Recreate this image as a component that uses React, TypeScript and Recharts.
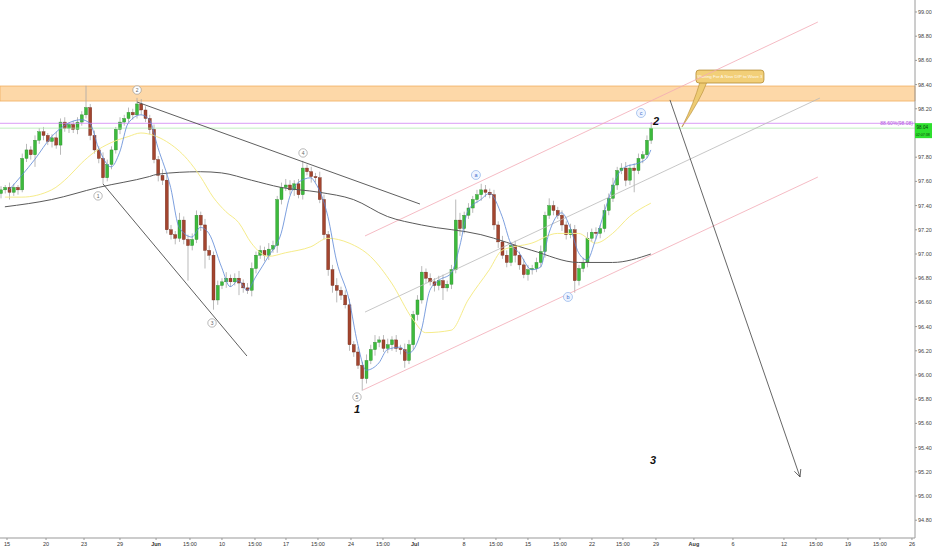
import {
  ComposedChart,
  Bar,
  Line,
  XAxis,
  YAxis,
  ReferenceLine,
  ReferenceArea,
  ReferenceDot,
} from 'recharts'

// x axis is in trading days from May 15, three bars per day
const X_MIN = -0.55
const X_MAX = 71.22
const Y_MIN = 94.653
const Y_MAX = 99.099

const firstOpen = 97.5

const closes = [
  97.53, 97.55, 97.51, 97.55, 97.53, 97.79, 97.86, 97.82, 97.94, 98.01,
  97.98, 97.93, 97.96, 97.9, 98.09, 98.04, 98.07, 98.03, 98.09, 98.15,
  98.21, 97.98, 97.86, 97.79, 97.63, 97.74, 97.86, 98.03, 98.09, 98.12,
  98.17, 98.15, 98.24, 98.19, 98.12, 98.03, 97.78, 97.65, 97.61, 97.2,
  97.16, 97.13, 97.28, 97.12, 97.07, 97.12, 97.32, 97.24, 97.03, 96.99,
  96.62, 96.74, 96.77, 96.8, 96.77, 96.8, 96.76, 96.72, 96.7, 96.88,
  96.99, 97.03, 96.99, 97.04, 97.07, 97.45, 97.55, 97.57, 97.53, 97.58,
  97.49, 97.71, 97.68, 97.64, 97.63, 97.45, 97.16, 96.87, 96.74, 96.7,
  96.66, 96.58, 96.25, 96.19, 96.08, 95.97, 96.12, 96.21, 96.27, 96.29,
  96.22, 96.25, 96.29, 96.22, 96.21, 96.12, 96.25, 96.5, 96.62, 96.85,
  96.8, 96.77, 96.74, 96.78, 96.72, 96.75, 96.87, 97.28, 97.21, 97.32,
  97.38, 97.45, 97.49, 97.53, 97.51, 97.49, 97.24, 97.1, 96.99, 96.93,
  97.07, 96.99, 96.91, 96.83, 96.87, 96.88, 96.93, 97.02, 97.32, 97.4,
  97.36, 97.32, 97.24, 97.16, 97.2, 96.78, 96.88, 96.93, 97.13, 97.18,
  97.17, 97.21, 97.36, 97.46, 97.57, 97.69, 97.71, 97.61, 97.71, 97.69,
  97.79, 97.82, 97.94, 98.04,
]

// wick lengths above / below the body, in hundredths
const upperWicks = [
  3, 2, 4, 3, 2, 4, 5, 3, 4, 3,
  4, 2, 3, 5, 3, 4, 2, 3, 4, 3,
  18, 3, 4, 3, 5, 4, 3, 2, 4, 3,
  4, 3, 5, 4, 3, 3, 4, 3, 5, 6,
  4, 3, 6, 3, 4, 5, 4, 3, 5, 4,
  3, 4, 3, 5, 3, 4, 6, 3, 4, 5,
  3, 4, 3, 5, 4, 3, 4, 5, 4, 3,
  4, 6, 3, 4, 3, 5, 4, 3, 4, 6,
  3, 4, 5, 3, 4, 3, 5, 4, 6, 3,
  4, 5, 3, 4, 3, 5, 4, 3, 4, 5,
  3, 4, 3, 4, 5, 3, 4, 17, 6, 3,
  4, 3, 4, 5, 4, 3, 4, 3, 5, 4,
  3, 4, 3, 5, 4, 3, 4, 5, 3, 6,
  4, 3, 4, 3, 5, 4, 3, 4, 5, 3,
  4, 3, 5, 4, 6, 3, 4, 5, 3, 4,
  4, 3, 4, 5,
]
const lowerWicks = [
  4, 3, 6, 3, 4, 2, 3, 4, 10, 3,
  4, 3, 5, 3, 8, 3, 4, 3, 4, 3,
  3, 4, 3, 4, 5, 3, 4, 3, 4, 3,
  3, 4, 3, 4, 3, 4, 3, 5, 4, 3,
  4, 5, 3, 4, 29, 4, 3, 5, 15, 4,
  8, 4, 3, 5, 4, 3, 10, 4, 3, 5,
  4, 3, 5, 4, 3, 6, 4, 3, 4, 5,
  3, 4, 3, 5, 4, 3, 4, 5, 6, 10,
  4, 3, 5, 4, 3, 10, 4, 3, 5, 4,
  3, 4, 5, 3, 4, 6, 3, 4, 5, 3,
  4, 3, 5, 4, 10, 3, 4, 3, 6, 4,
  3, 4, 3, 5, 4, 3, 4, 5, 3, 4,
  3, 6, 4, 3, 5, 4, 3, 4, 5, 3,
  4, 3, 5, 4, 3, 10, 4, 3, 4, 3,
  5, 4, 3, 4, 3, 4, 3, 5, 4, 18,
  3, 4, 3, 3,
]

// moving averages as [bar index, value]
const fastMa = [
  [2, 97.53], [8, 97.78], [12, 97.97], [19, 98.11], [21, 98.08], [23, 97.88], [26, 97.72],
  [28, 97.84], [30, 98.08], [33, 98.15], [35, 98.11], [37, 97.88], [40, 97.55], [42, 97.22],
  [45, 97.14], [47, 97.22], [49, 97.17], [52, 96.89], [54, 96.73], [56, 96.78], [58, 96.7],
  [60, 96.81], [63, 96.98], [66, 97.17], [68, 97.47], [70, 97.59], [73, 97.63], [74, 97.59],
  [77, 97.31], [79, 96.95], [82, 96.62], [84, 96.26], [86, 96.04], [89, 96.1], [91, 96.21],
  [94, 96.23], [96, 96.18], [99, 96.37], [101, 96.7], [103, 96.78], [106, 96.84], [108, 97.06],
  [110, 97.36], [113, 97.45], [115, 97.5], [118, 97.31], [120, 97.09], [122, 97.01],
  [125, 96.87], [127, 96.89], [129, 97.17], [132, 97.34], [134, 97.22], [136, 97.01],
  [138, 96.95], [140, 97.12], [143, 97.45], [145, 97.64], [147, 97.72], [150, 97.75],
  [152, 97.79], [153, 97.86],
]
const midMa = [
  [1, 97.47], [5, 97.47], [12, 97.53], [16, 97.64], [19, 97.75], [22, 97.84], [26, 97.92],
  [30, 97.97], [33, 98.0], [36, 97.98], [39, 97.93], [44, 97.78], [47, 97.64], [50, 97.47],
  [53, 97.35], [56, 97.26], [59, 97.09], [63, 96.98], [67, 97.01], [73, 97.06], [77, 97.13],
  [82, 97.09], [87, 96.98], [92, 96.76], [97, 96.46], [100, 96.35], [106, 96.37],
  [110, 96.62], [115, 96.87], [118, 97.03], [125, 97.09], [131, 97.17], [136, 97.17],
  [140, 97.09], [144, 97.17], [148, 97.31], [153, 97.42],
]
const longMa = [
  [1, 97.39], [12, 97.45], [23, 97.55], [35, 97.64], [37, 97.66], [47, 97.68], [52, 97.67],
  [59, 97.61], [66, 97.55], [75, 97.51], [83, 97.45], [91, 97.31], [99, 97.24], [113, 97.16],
  [125, 97.03], [136, 96.93], [144, 96.93], [153, 97.0],
]

const tickDays = [
  0, 3.06, 6.04, 8.86, 11.69, 14.35, 16.86, 19.45, 21.88, 24.39, 26.98, 29.49, 32.0, 35.84,
  38.35, 40.86, 43.37, 45.88, 48.31, 50.9, 53.88, 56.94, 60.94, 63.45, 65.96, 68.47, 70.98,
]
const tickLabels = [
  '15', '20', '23', '29', 'Jun', '15:00', '10', '15:00', '17', '15:00', '24', '15:00', 'Jul', '8',
  '15:00', '15', '15:00', '22', '15:00', '29', 'Aug', '6', '12', '15:00', '19', '15:00', '26',
]
// 98.00 sits under the live price tag, so it is not listed
const priceTicks = [
  94.8, 95.0, 95.2, 95.4, 95.6, 95.8, 96.0, 96.2, 96.4, 96.6, 96.8, 97.0, 97.2, 97.4, 97.6,
  97.8, 98.2, 98.4, 98.6, 98.8, 99.0,
]

// elliott wave markers: [label, day, price]
const waveMarks = [
  ['1', 7.14, 97.48],
  ['2', 10.2, 98.355],
  ['3', 16.08, 96.43],
  ['4', 23.22, 97.835],
  ['5', 27.45, 95.818],
]
const abcMarks = [
  ['a', 36.78, 97.653],
  ['b', 44.0, 96.645],
  ['c', 49.73, 98.165],
]
const bigLabels = [
  ['1', 27.45, 95.72],
  ['2', 50.9, 98.099],
  ['3', 50.67, 95.297],
]

const rows = closes.map((c, k) => {
  const o = k === 0 ? firstOpen : closes[k - 1]
  const hi = Math.max(o, c) + upperWicks[k] / 100
  const lo = Math.min(o, c) - lowerWicks[k] / 100
  return { d: -0.5 + k / 3, o, c, range: [lo, hi] } as any
})
fastMa.forEach(([k, v]) => (rows[k].fast = v))
midMa.forEach(([k, v]) => (rows[k].mid = v))
longMa.forEach(([k, v]) => (rows[k].long = v))

function Candle(props: any) {
  const { x, y, width, height, payload } = props
  if (!payload) return null
  const [lo, hi] = payload.range
  const top = Math.min(y, y + height)
  const h = Math.abs(height)
  const ppu = h / (hi - lo)
  const yOf = (v: number) => top + (hi - v) * ppu
  const up = payload.c >= payload.o
  const bTop = yOf(Math.max(payload.o, payload.c))
  const bBot = yOf(Math.min(payload.o, payload.c))
  const cx = x + width / 2
  return (
    <g>
      <line x1={cx} x2={cx} y1={top} y2={top + h} stroke="#a8a8a8" strokeWidth={0.8} />
      <rect
        x={x}
        y={bTop}
        width={width}
        height={Math.max(bBot - bTop, 0.8)}
        fill={up ? '#3dba3d' : '#a3452f'}
        stroke={up ? '#2c8a2c' : '#6e2b1c'}
        strokeWidth={0.4}
      />
    </g>
  )
}

function TimeTick({ x, y, payload }: any) {
  const label = tickLabels[tickDays.indexOf(payload.value)] ?? ''
  const month = label === 'Jun' || label === 'Jul' || label === 'Aug'
  return (
    <text x={x} y={y + 5} textAnchor="middle" fontSize={5.5} fill="#333" fontWeight={month ? 'bold' : 'normal'}>
      {label}
    </text>
  )
}

function PriceTick({ x, y, payload }: any) {
  return (
    <text x={x} y={y + 2} textAnchor="start" fontSize={5.5} fill="#444">
      {Number(payload.value).toFixed(2)}
    </text>
  )
}

function Callout(props: any) {
  const { x, y, width, height } = props
  const b = y + height
  return (
    <g>
      <path
        d={`M${x + 4},${b - 1} Q${x - 2},${b + 20} ${x - 14},${b + 44} Q${x + 4},${b + 18} ${x + 11},${b - 1} Z`}
        fill="#eecb73"
        stroke="#b48c35"
        strokeWidth={0.6}
      />
      <rect x={x} y={y} width={width} height={height} rx={3} fill="#f2cf78" stroke="#b48c35" strokeWidth={0.8} />
      <text x={x + width / 2} y={y + height / 2 + 1.6} textAnchor="middle" fontSize={4.4} fill="#fffaf0">
        Waiting For A New DIP to Wave 3
      </text>
    </g>
  )
}

export default function App() {
  return (
    <div style={{ width: 932, height: 550, background: '#fff', fontFamily: '"Liberation Sans", Arial, sans-serif' }}>
      <style>{'body{margin:0;background:#fff}'}</style>
      <ComposedChart width={932} height={550} data={rows} margin={{ top: 0, right: 0, bottom: 0, left: 0 }}>
        <XAxis
          dataKey="d"
          type="number"
          domain={[X_MIN, X_MAX]}
          allowDataOverflow
          ticks={tickDays}
          interval={0}
          height={12}
          tickSize={2}
          tickMargin={1}
          tick={<TimeTick />}
          axisLine={{ stroke: '#999' }}
          tickLine={{ stroke: '#999' }}
        />
        <YAxis
          orientation="right"
          type="number"
          domain={[Y_MIN, Y_MAX]}
          allowDataOverflow
          ticks={priceTicks}
          interval={0}
          width={17}
          tickSize={2}
          tickMargin={1}
          tick={<PriceTick />}
          axisLine={{ stroke: '#9a9a9a' }}
          tickLine={{ stroke: '#999' }}
        />

        <ReferenceArea y1={98.264} y2={98.388} fill="#fdd8a8" fillOpacity={1} stroke="#f1b05f" strokeWidth={0.8} />
        <ReferenceLine
          y={98.08}
          stroke="#cf85f2"
          strokeWidth={0.8}
          label={{ value: '88.60%(98.08)', position: 'insideRight', offset: 2, fill: '#b24fe0', fontSize: 5 }}
        />
        <ReferenceLine y={98.04} stroke="#a6e8a6" strokeWidth={0.7} />

        {/* channel and wedge lines */}
        <ReferenceLine segment={[{ x: 28.08, y: 97.149 }, { x: 63.6, y: 98.917 }]} stroke="#f3a9b5" strokeWidth={0.8} />
        <ReferenceLine segment={[{ x: 28.08, y: 96.52 }, { x: 63.76, y: 98.289 }]} stroke="#b9b9b9" strokeWidth={0.8} />
        <ReferenceLine segment={[{ x: 27.92, y: 95.876 }, { x: 63.6, y: 97.636 }]} stroke="#f3a9b5" strokeWidth={0.8} />

        <Line dataKey="long" type="monotone" connectNulls dot={false} activeDot={false} stroke="#5a5a5a" strokeWidth={1} isAnimationActive={false} />
        <Line dataKey="mid" type="monotone" connectNulls dot={false} activeDot={false} stroke="#f6ec8a" strokeWidth={1} isAnimationActive={false} />
        <Line dataKey="fast" type="monotone" connectNulls dot={false} activeDot={false} stroke="#5b86d6" strokeWidth={0.8} isAnimationActive={false} />

        <Bar dataKey="range" barSize={3} shape={(p: any) => <Candle {...p} />} isAnimationActive={false} />

        <ReferenceLine segment={[{ x: 10.2, y: 98.256 }, { x: 32.39, y: 97.413 }]} stroke="#4d4d4d" strokeWidth={0.9} />
        <ReferenceLine segment={[{ x: 7.53, y: 97.579 }, { x: 18.82, y: 96.157 }]} stroke="#4d4d4d" strokeWidth={0.9} />
        <ReferenceLine segment={[{ x: 52.0, y: 98.273 }, { x: 62.2, y: 95.157 }]} stroke="#555" strokeWidth={0.9} />
        <ReferenceDot
          x={62.2}
          y={95.157}
          shape={(p: any) => (
            <polyline
              points={`${p.cx + 0.8},${p.cy - 8} ${p.cx},${p.cy} ${p.cx - 5.6},${p.cy - 5.7}`}
              fill="none"
              stroke="#555"
              strokeWidth={0.9}
            />
          )}
        />

        <ReferenceArea x1={54.04} x2={59.37} y1={98.413} y2={98.52} shape={(p: any) => <Callout {...p} />} />

        {waveMarks.map(([t, d, v]) => (
          <ReferenceDot
            key={'w' + t}
            x={d as number}
            y={v as number}
            shape={(p: any) => (
              <g>
                <circle cx={p.cx} cy={p.cy} r={4.2} fill="#fff" stroke="#8a8a8a" strokeWidth={0.6} />
                <text x={p.cx} y={p.cy + 1.8} textAnchor="middle" fontSize={5} fill="#666">
                  {t}
                </text>
              </g>
            )}
          />
        ))}
        {abcMarks.map(([t, d, v]) => (
          <ReferenceDot
            key={'l' + t}
            x={d as number}
            y={v as number}
            shape={(p: any) => (
              <g>
                <circle cx={p.cx} cy={p.cy} r={4.5} fill="#eef4ff" stroke="#7fa7e6" strokeWidth={0.6} />
                <text x={p.cx} y={p.cy + 1.8} textAnchor="middle" fontSize={5.5} fill="#3d6fcc">
                  {t}
                </text>
              </g>
            )}
          />
        ))}
        {bigLabels.map(([t, d, v]) => (
          <ReferenceDot
            key={'b' + t}
            x={d as number}
            y={v as number}
            shape={(p: any) => (
              <text x={p.cx} y={p.cy + 4} textAnchor="middle" fontSize={11} fontWeight="bold" fontStyle="italic" fill="#111">
                {t}
              </text>
            )}
          />
        ))}

        <ReferenceDot
          x={X_MAX}
          y={98.04}
          shape={(p: any) => (
            <g>
              <rect x={p.cx} y={p.cy - 5} width={17} height={15} fill="#2ee02e" />
              <text x={p.cx + 1.5} y={p.cy + 1} fontSize={4.6} fill="#0a3a0a">
                98.04
              </text>
              <text x={p.cx + 0.8} y={p.cy + 7.5} fontSize={3.6} fill="#0a3a0a">
                02:07:38
              </text>
            </g>
          )}
        />
      </ComposedChart>
    </div>
  )
}
